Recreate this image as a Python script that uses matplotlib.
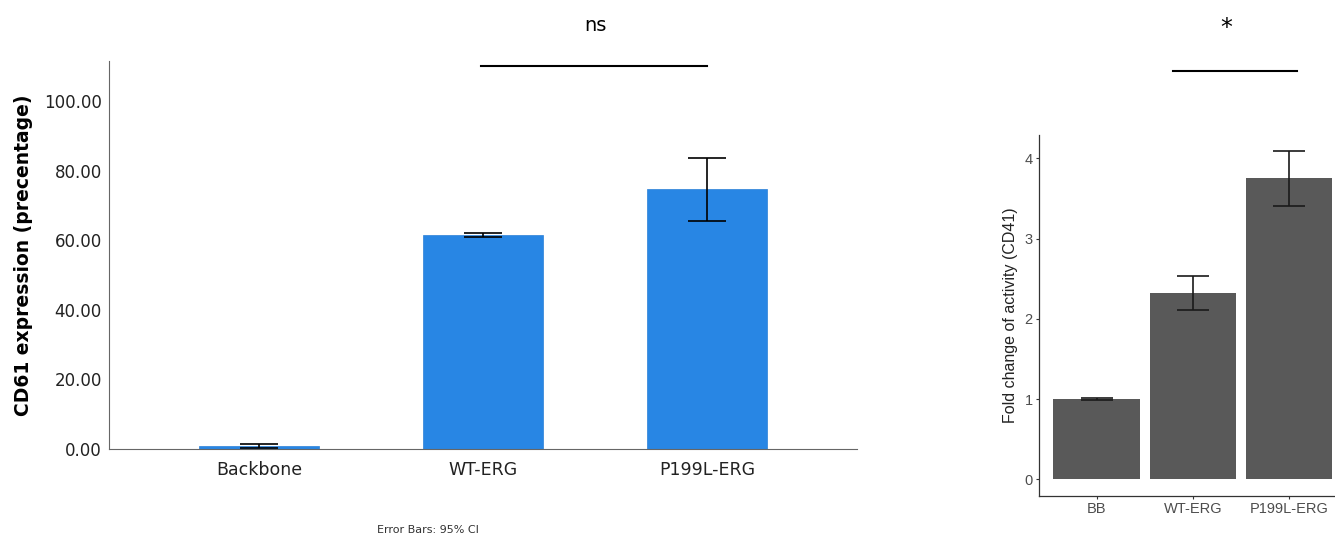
import matplotlib
matplotlib.use("Agg")
import matplotlib.pyplot as plt

# left panel: CD61 expression (%), mean with 95% CI
cd61_groups = ["Backbone", "WT-ERG", "P199L-ERG"]
cd61_mean = [0.9, 61.6, 74.6]
cd61_ci_low = [0.3, 61.0, 65.5]
cd61_ci_high = [1.5, 62.2, 83.7]

# right panel: fold change of activity (CD41)
cd41_groups = ["BB", "WT-ERG", "P199L-ERG"]
cd41_mean = [1.0, 2.32, 3.75]
cd41_err_low = [0.99, 2.11, 3.40]
cd41_err_high = [1.01, 2.53, 4.09]

fig = plt.figure(figsize=(13.35, 5.39), dpi=100)

# --- left panel ---
ax = fig.add_axes([0.0816, 0.167, 0.5604, 0.7198])
x = range(len(cd61_groups))
yerr = [[m - lo for m, lo in zip(cd61_mean, cd61_ci_low)],
        [hi - m for m, hi in zip(cd61_mean, cd61_ci_high)]]
ax.bar(x, cd61_mean, width=0.54, color="#2886E4", edgecolor="#2a7fd6", lw=0.5)
ax.errorbar(x, cd61_mean, yerr=yerr, fmt="none", ecolor="black",
            elinewidth=1.2, capsize=14, capthick=1.2)
ax.set_xlim(-0.67, 2.67)
ax.set_ylim(0, 111.5)
ax.set_yticks([0, 20, 40, 60, 80, 100])
ax.set_yticklabels([f"{v:.2f}" for v in [0, 20, 40, 60, 80, 100]])
ax.set_xticks(list(x))
ax.set_xticklabels(cd61_groups)
ax.tick_params(axis="y", length=0, pad=5, labelsize=12, labelcolor="#222222")
ax.tick_params(axis="x", length=0, pad=9, labelsize=12.5, labelcolor="#222222")
for s in ("top", "right"):
    ax.spines[s].set_visible(False)
for s in ("left", "bottom"):
    ax.spines[s].set_color("#666666")
ax.set_ylabel("CD61 expression (precentage)", fontsize=13.5, fontweight="bold",
              labelpad=8)
ax.plot([0.99, 2.0], [110, 110], color="black", lw=1.5, clip_on=False)
ax.text(1.5, 121.8, "ns", ha="center", va="center", fontsize=14)
fig.text(0.3206, 0.016, "Error Bars: 95% CI", ha="center", va="center",
         fontsize=8, color="#333333")

# --- right panel (ggplot classic look) ---
ax2 = fig.add_axes([0.7783, 0.0803, 0.2217, 0.6692])
x2 = range(len(cd41_groups))
yerr2 = [[m - lo for m, lo in zip(cd41_mean, cd41_err_low)],
         [hi - m for m, hi in zip(cd41_mean, cd41_err_high)]]
ax2.bar(x2, cd41_mean, width=0.9, color="#595959")
ax2.errorbar(x2, cd41_mean, yerr=yerr2, fmt="none", ecolor="#1a1a1a",
             elinewidth=1.2, capsize=11.5, capthick=1.2)
ax2.set_xlim(-0.6, 2.48)
ax2.set_ylim(-0.204, 4.29)
ax2.set_yticks([0, 1, 2, 3, 4])
ax2.set_xticks(list(x2))
ax2.set_xticklabels(cd41_groups)
for lab in ax2.get_xticklabels() + ax2.get_yticklabels():
    lab.set_family("Liberation Sans")
ax2.tick_params(length=2.5, width=0.8, color="#333333", labelsize=10.5,
                labelcolor="#4D4D4D", pad=2)
for s in ("top", "right"):
    ax2.spines[s].set_visible(False)
for s in ("left", "bottom"):
    ax2.spines[s].set_color("#333333")
    ax2.spines[s].set_linewidth(0.9)
ax2.set_ylabel("Fold change of activity (CD41)", fontsize=11.5,
               family="Liberation Sans", color="#222222", labelpad=5)
ax2.plot([0.79, 2.08], [5.09, 5.09], color="black", lw=1.5, clip_on=False)
ax2.text(1.35, 5.62, "*", ha="center", va="center", fontsize=17)

fig.savefig("out.png", dpi=100)
